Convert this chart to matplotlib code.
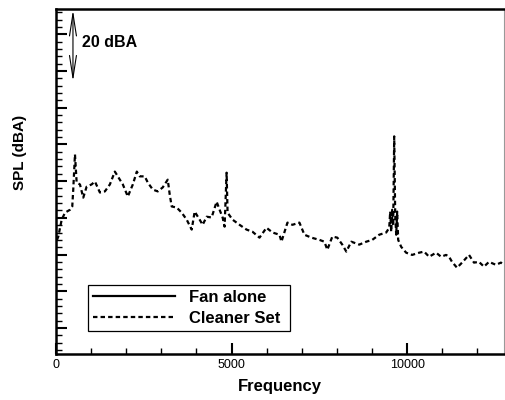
import numpy as np
import matplotlib
matplotlib.use('Agg')
import matplotlib.pyplot as plt
import matplotlib.ticker as ticker
from matplotlib.lines import Line2D

plt.rcParams['font.family'] = ['Liberation Sans', 'DejaVu Sans']

# SPECTRUM (Hz, dBA relative)
freq = [28, 65, 162, 256, 398, 463, 491, 540, 588, 682, 776, 872, 1014, 1108,
        1250, 1392, 1534, 1676, 1818, 1903, 2045, 2188, 2301, 2386, 2528, 2614,
        2756, 2898, 3040, 3182, 3239, 3295, 3438, 3580, 3722, 3864, 3949, 4091,
        4176, 4290, 4432, 4574, 4659, 4744, 4801, 4858, 4886, 5028, 5227, 5426,
        5597, 5795, 5994, 6165, 6364, 6420, 6591, 6733, 6932, 7074, 7273, 7500,
        7642, 7727, 7869, 8011, 8153, 8267, 8409, 8636, 8835, 9006, 9205, 9403,
        9489, 9517, 9545, 9574, 9602, 9631, 9659, 9688, 9716, 9744, 9830, 9972,
        10142, 10341, 10483, 10625, 10824, 10966, 11108, 11193, 11278, 11420,
        11563, 11761, 11903, 12045, 12188, 12330, 12528, 12670, 12756]
spl_cleaner = [24.0, 24.9, 29.5, 31.4, 32.2, 33.1, 37.7, 47.3, 39.6, 39.1, 35.5,
               38.5, 39.1, 39.9, 36.9, 37.2, 39.1, 42.6, 40.4, 39.1, 35.8, 39.1,
               42.6, 41.3, 41.3, 39.6, 37.7, 37.2, 38.3, 40.4, 36.3, 33.1, 32.8,
               31.4, 29.5, 26.8, 31.7, 29.5, 28.1, 30.3, 30.1, 34.4, 32.2, 30.1,
               27.6, 42.3, 31.4, 29.5, 28.1, 26.8, 26.2, 24.6, 27.3, 26.0, 25.4,
               23.5, 28.7, 28.1, 28.7, 25.4, 24.6, 24.0, 23.5, 21.3, 24.9, 24.6,
               22.7, 20.8, 23.5, 22.7, 23.5, 24.0, 25.4, 26.0, 27.3, 31.7, 26.2,
               32.2, 27.9, 52.2, 30.9, 25.4, 31.7, 24.0, 22.1, 20.5, 19.9, 20.5,
               20.8, 19.4, 20.5, 19.4, 19.9, 19.4, 18.0, 16.4, 17.8, 19.9, 17.8,
               18.0, 16.7, 18.0, 17.2, 17.8, 17.2]
labels = ['Fan alone', 'Cleaner Set']

fig = plt.figure(figsize=(5.05, 4.0), dpi=100)
ax = fig.add_axes([0.1109, 0.115, 0.887, 0.8625])

ax.plot(freq, spl_cleaner, color='k', ls=(0, (2.0, 1.4)), lw=1.6)

ax.set_xlim(0, 12756)
ax.set_ylim(-7.1, 86.9)
ax.xaxis.set_major_locator(ticker.MultipleLocator(5000))
ax.xaxis.set_minor_locator(ticker.MultipleLocator(1000))
ax.yaxis.set_major_locator(ticker.MultipleLocator(10))
ax.yaxis.set_minor_locator(ticker.MultipleLocator(2))
ax.tick_params(direction='in', which='major', length=8, width=1.5, labelsize=9)
ax.tick_params(direction='in', which='minor', length=4, width=1.0)
ax.tick_params(axis='y', labelleft=False)
plt.setp(ax.spines.values(), linewidth=1.8)
ax.spines['right'].set_linewidth(0.8)
ax.spines['right'].set_color('0.6')

ax.set_xlabel('Frequency', fontsize=12, fontweight='bold', labelpad=6)
ax.set_ylabel('SPL (dBA)', fontsize=11, fontweight='bold')
ax.yaxis.set_label_coords(-0.065, 0.585)

# 20 dBA SCALE ARROW
ax.annotate('', xy=(483, 86.6), xytext=(483, 67.2),
            arrowprops=dict(arrowstyle='<->, head_length=1.6, head_width=0.25',
                            lw=0.8, color='k', shrinkA=0, shrinkB=0))
ax.text(739, 77.9, '20 dBA', fontsize=11.5, fontweight='bold', va='center', ha='left')

handles = [Line2D([], [], color='k', lw=1.6),
           Line2D([], [], color='k', ls=(0, (2.0, 1.4)), lw=1.6)]
leg = ax.legend(handles, labels, loc='lower left', bbox_to_anchor=(0.0714, 0.0667, 0.4506, 0.1536),
                mode='expand', prop={'weight': 'bold', 'size': 12},
                handlelength=4.9, handletextpad=0.85, borderpad=0.3, labelspacing=0.35,
                fancybox=False, framealpha=1, edgecolor='k', borderaxespad=0)
leg.get_frame().set_linewidth(0.9)

plt.savefig('out.png', dpi=100)
